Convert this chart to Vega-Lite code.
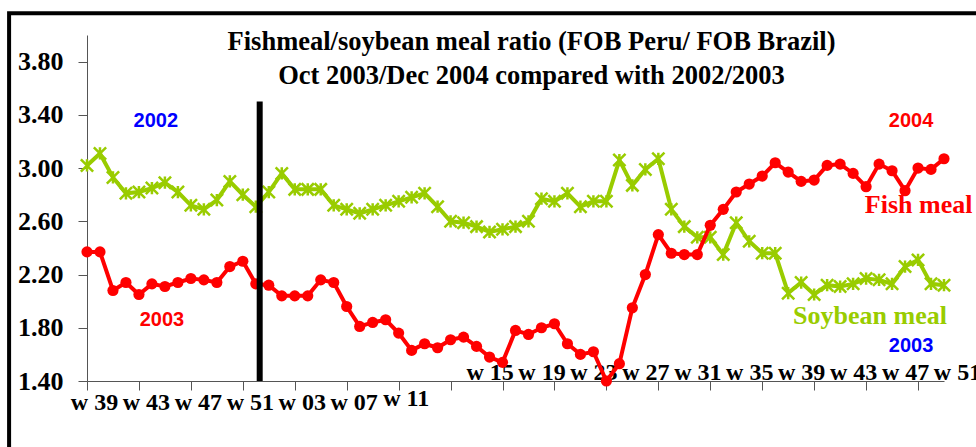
{
  "$schema": "https://vega.github.io/schema/vega-lite/v6.json",
  "width": 857,
  "height": 346,
  "autosize": {"type": "none"},
  "padding": {"left": 87, "top": 35, "right": 32, "bottom": 66},
  "background": "white",
  "config": {"view": {"stroke": null}},
  "title": {
    "text": ["Fishmeal/soybean meal ratio (FOB Peru/ FOB Brazil)", "Oct 2003/Dec 2004 compared with 2002/2003"],
    "font": "Liberation Serif",
    "fontSize": 26.5,
    "fontWeight": "bold",
    "color": "black",
    "anchor": "middle",
    "offset": -78,
    "dx": 16,
    "lineHeight": 34
  },
  "datasets": {
    "weeks": [
      {"i": 0, "year": 2003, "week": 39, "fish": 2.37, "soy": 3.02},
      {"i": 1, "year": 2003, "week": 40, "fish": 2.37, "soy": 3.11},
      {"i": 2, "year": 2003, "week": 41, "fish": 2.08, "soy": 2.93},
      {"i": 3, "year": 2003, "week": 42, "fish": 2.14, "soy": 2.81},
      {"i": 4, "year": 2003, "week": 43, "fish": 2.05, "soy": 2.82},
      {"i": 5, "year": 2003, "week": 44, "fish": 2.13, "soy": 2.85},
      {"i": 6, "year": 2003, "week": 45, "fish": 2.11, "soy": 2.89},
      {"i": 7, "year": 2003, "week": 46, "fish": 2.14, "soy": 2.82},
      {"i": 8, "year": 2003, "week": 47, "fish": 2.17, "soy": 2.72},
      {"i": 9, "year": 2003, "week": 48, "fish": 2.16, "soy": 2.69},
      {"i": 10, "year": 2003, "week": 49, "fish": 2.14, "soy": 2.76},
      {"i": 11, "year": 2003, "week": 50, "fish": 2.26, "soy": 2.90},
      {"i": 12, "year": 2003, "week": 51, "fish": 2.30, "soy": 2.80},
      {"i": 13, "year": 2003, "week": 52, "fish": 2.13, "soy": 2.71},
      {"i": 14, "year": 2004, "week": 1, "fish": 2.12, "soy": 2.82},
      {"i": 15, "year": 2004, "week": 2, "fish": 2.04, "soy": 2.96},
      {"i": 16, "year": 2004, "week": 3, "fish": 2.04, "soy": 2.84},
      {"i": 17, "year": 2004, "week": 4, "fish": 2.04, "soy": 2.84},
      {"i": 18, "year": 2004, "week": 5, "fish": 2.16, "soy": 2.84},
      {"i": 19, "year": 2004, "week": 6, "fish": 2.14, "soy": 2.72},
      {"i": 20, "year": 2004, "week": 7, "fish": 1.96, "soy": 2.69},
      {"i": 21, "year": 2004, "week": 8, "fish": 1.81, "soy": 2.66},
      {"i": 22, "year": 2004, "week": 9, "fish": 1.84, "soy": 2.69},
      {"i": 23, "year": 2004, "week": 10, "fish": 1.86, "soy": 2.72},
      {"i": 24, "year": 2004, "week": 11, "fish": 1.76, "soy": 2.75},
      {"i": 25, "year": 2004, "week": 12, "fish": 1.63, "soy": 2.78},
      {"i": 26, "year": 2004, "week": 13, "fish": 1.68, "soy": 2.81},
      {"i": 27, "year": 2004, "week": 14, "fish": 1.65, "soy": 2.71},
      {"i": 28, "year": 2004, "week": 15, "fish": 1.71, "soy": 2.60},
      {"i": 29, "year": 2004, "week": 16, "fish": 1.73, "soy": 2.59},
      {"i": 30, "year": 2004, "week": 17, "fish": 1.66, "soy": 2.56},
      {"i": 31, "year": 2004, "week": 18, "fish": 1.58, "soy": 2.52},
      {"i": 32, "year": 2004, "week": 19, "fish": 1.54, "soy": 2.54},
      {"i": 33, "year": 2004, "week": 20, "fish": 1.78, "soy": 2.56},
      {"i": 34, "year": 2004, "week": 21, "fish": 1.75, "soy": 2.60},
      {"i": 35, "year": 2004, "week": 22, "fish": 1.80, "soy": 2.77},
      {"i": 36, "year": 2004, "week": 23, "fish": 1.83, "soy": 2.75},
      {"i": 37, "year": 2004, "week": 24, "fish": 1.68, "soy": 2.81},
      {"i": 38, "year": 2004, "week": 25, "fish": 1.60, "soy": 2.71},
      {"i": 39, "year": 2004, "week": 26, "fish": 1.62, "soy": 2.75},
      {"i": 40, "year": 2004, "week": 27, "fish": 1.40, "soy": 2.75},
      {"i": 41, "year": 2004, "week": 28, "fish": 1.53, "soy": 3.06},
      {"i": 42, "year": 2004, "week": 29, "fish": 1.95, "soy": 2.87},
      {"i": 43, "year": 2004, "week": 30, "fish": 2.20, "soy": 2.99},
      {"i": 44, "year": 2004, "week": 31, "fish": 2.50, "soy": 3.07},
      {"i": 45, "year": 2004, "week": 32, "fish": 2.36, "soy": 2.69},
      {"i": 46, "year": 2004, "week": 33, "fish": 2.35, "soy": 2.56},
      {"i": 47, "year": 2004, "week": 34, "fish": 2.35, "soy": 2.48},
      {"i": 48, "year": 2004, "week": 35, "fish": 2.57, "soy": 2.48},
      {"i": 49, "year": 2004, "week": 36, "fish": 2.69, "soy": 2.35},
      {"i": 50, "year": 2004, "week": 37, "fish": 2.82, "soy": 2.59},
      {"i": 51, "year": 2004, "week": 38, "fish": 2.88, "soy": 2.45},
      {"i": 52, "year": 2004, "week": 39, "fish": 2.94, "soy": 2.36},
      {"i": 53, "year": 2004, "week": 40, "fish": 3.04, "soy": 2.36},
      {"i": 54, "year": 2004, "week": 41, "fish": 2.97, "soy": 2.06},
      {"i": 55, "year": 2004, "week": 42, "fish": 2.90, "soy": 2.14},
      {"i": 56, "year": 2004, "week": 43, "fish": 2.91, "soy": 2.05},
      {"i": 57, "year": 2004, "week": 44, "fish": 3.02, "soy": 2.12},
      {"i": 58, "year": 2004, "week": 45, "fish": 3.03, "soy": 2.11},
      {"i": 59, "year": 2004, "week": 46, "fish": 2.96, "soy": 2.13},
      {"i": 60, "year": 2004, "week": 47, "fish": 2.86, "soy": 2.17},
      {"i": 61, "year": 2004, "week": 48, "fish": 3.03, "soy": 2.16},
      {"i": 62, "year": 2004, "week": 49, "fish": 2.98, "soy": 2.13},
      {"i": 63, "year": 2004, "week": 50, "fish": 2.83, "soy": 2.26},
      {"i": 64, "year": 2004, "week": 51, "fish": 3.00, "soy": 2.31},
      {"i": 65, "year": 2004, "week": 52, "fish": 2.99, "soy": 2.13},
      {"i": 66, "year": 2004, "week": 53, "fish": 3.07, "soy": 2.12}
    ],
    "divider": [{"i": 13.3, "lo": 1.4, "hi": 3.5}],
    "one": [{"note": "annotation"}]
  },
  "layer": [
    {
      "data": {"name": "weeks"},
      "mark": {"type": "line", "color": "#99CC00", "strokeWidth": 4},
      "encoding": {
        "x": {
          "field": "i",
          "type": "quantitative",
          "scale": {"domain": [0, 66], "nice": false, "zero": false},
          "axis": {
            "title": null,
            "grid": false,
            "values": [0, 4, 8, 12, 16, 20, 24, 28, 32, 36, 40, 44, 48, 52, 56, 60, 64],
            "labelExpr": "'w ' + (datum.value < 14 ? (datum.value + 39) : ((datum.value - 13) < 10 ? '0' + (datum.value - 13) : (datum.value - 13)))",
            "labelFont": "Liberation Serif",
            "labelFontWeight": "bold",
            "labelFontSize": 24,
            "labelColor": "black",
            "labelFlush": false,
            "labelOverlap": false,
            "labelBound": false,
            "labelOffset": {"condition": {"test": "datum.value >= 28", "value": 39}, "value": 7},
            "labelPadding": {"condition": [{"test": "datum.value >= 28", "value": -30}, {"test": "datum.value == 24", "value": -4}], "value": 0},
            "tickSize": 9,
            "tickColor": "#555555",
            "domainColor": "#555555"
          }
        },
        "y": {
          "field": "soy",
          "type": "quantitative",
          "scale": {"domain": [1.4, 4.0], "nice": false, "zero": false},
          "axis": {
            "title": null,
            "grid": false,
            "values": [1.4, 1.8, 2.2, 2.6, 3.0, 3.4, 3.8],
            "format": ".2f",
            "labelFont": "Liberation Serif",
            "labelFontWeight": "bold",
            "labelFontSize": 26,
            "labelColor": "black",
            "labelPadding": 15,
            "labelFlush": false,
            "tickSize": 9,
            "tickColor": "#555555",
            "domainColor": "#555555"
          }
        }
      }
    },
    {
      "data": {"name": "weeks"},
      "mark": {"type": "point", "shape": "M-1,-1L1,1M-1,1L1,-1M0,-1L0,1", "filled": false, "stroke": "#99CC00", "strokeWidth": 2.5, "size": 150, "opacity": 1},
      "encoding": {
        "x": {"field": "i", "type": "quantitative"},
        "y": {"field": "soy", "type": "quantitative"}
      }
    },
    {
      "data": {"name": "weeks"},
      "mark": {"type": "line", "color": "#FF0000", "strokeWidth": 4},
      "encoding": {
        "x": {"field": "i", "type": "quantitative"},
        "y": {"field": "fish", "type": "quantitative"}
      }
    },
    {
      "data": {"name": "weeks"},
      "mark": {"type": "circle", "color": "#FF0000", "size": 125, "opacity": 1},
      "encoding": {
        "x": {"field": "i", "type": "quantitative"},
        "y": {"field": "fish", "type": "quantitative"}
      }
    },
    {
      "data": {"name": "divider"},
      "mark": {"type": "rule", "color": "black", "strokeWidth": 6},
      "encoding": {
        "x": {"field": "i", "type": "quantitative"},
        "y": {"field": "lo", "type": "quantitative"},
        "y2": {"field": "hi"}
      }
    },
    {
      "data": {"name": "one"},
      "mark": {"type": "text", "text": "2002", "color": "#0000FF", "font": "Liberation Sans", "fontWeight": "bold", "fontSize": 20, "align": "center", "baseline": "middle"},
      "encoding": {"x": {"datum": 5.3, "type": "quantitative"}, "y": {"datum": 3.355, "type": "quantitative"}}
    },
    {
      "data": {"name": "one"},
      "mark": {"type": "text", "text": "2003", "color": "#FF0000", "font": "Liberation Sans", "fontWeight": "bold", "fontSize": 20, "align": "center", "baseline": "middle"},
      "encoding": {"x": {"datum": 5.77, "type": "quantitative"}, "y": {"datum": 1.859, "type": "quantitative"}}
    },
    {
      "data": {"name": "one"},
      "mark": {"type": "text", "text": "2004", "color": "#FF0000", "font": "Liberation Sans", "fontWeight": "bold", "fontSize": 20, "align": "center", "baseline": "middle"},
      "encoding": {"x": {"datum": 63.46, "type": "quantitative"}, "y": {"datum": 3.355, "type": "quantitative"}}
    },
    {
      "data": {"name": "one"},
      "mark": {"type": "text", "text": "2003", "color": "#0000FF", "font": "Liberation Sans", "fontWeight": "bold", "fontSize": 20, "align": "center", "baseline": "middle"},
      "encoding": {"x": {"datum": 63.46, "type": "quantitative"}, "y": {"datum": 1.663, "type": "quantitative"}}
    },
    {
      "data": {"name": "one"},
      "mark": {"type": "text", "text": "Fish meal", "color": "#FF0000", "font": "Liberation Serif", "fontWeight": "bold", "fontSize": 26, "align": "left", "baseline": "middle"},
      "encoding": {"x": {"datum": 59.9, "type": "quantitative"}, "y": {"datum": 2.723, "type": "quantitative"}}
    },
    {
      "data": {"name": "one"},
      "mark": {"type": "text", "text": "Soybean meal", "color": "#99CC00", "font": "Liberation Serif", "fontWeight": "bold", "fontSize": 26, "align": "center", "baseline": "middle"},
      "encoding": {"x": {"datum": 60.3, "type": "quantitative"}, "y": {"datum": 1.889, "type": "quantitative"}}
    },
    {
      "data": {"name": "one"},
      "mark": {"type": "rect", "fillOpacity": 0, "stroke": "black", "strokeWidth": 4, "clip": false},
      "encoding": {"x": {"datum": -6.0, "type": "quantitative"}, "x2": {"datum": 75}, "y": {"datum": 4.163, "type": "quantitative"}, "y2": {"datum": 0.5}}
    }
  ]
}
